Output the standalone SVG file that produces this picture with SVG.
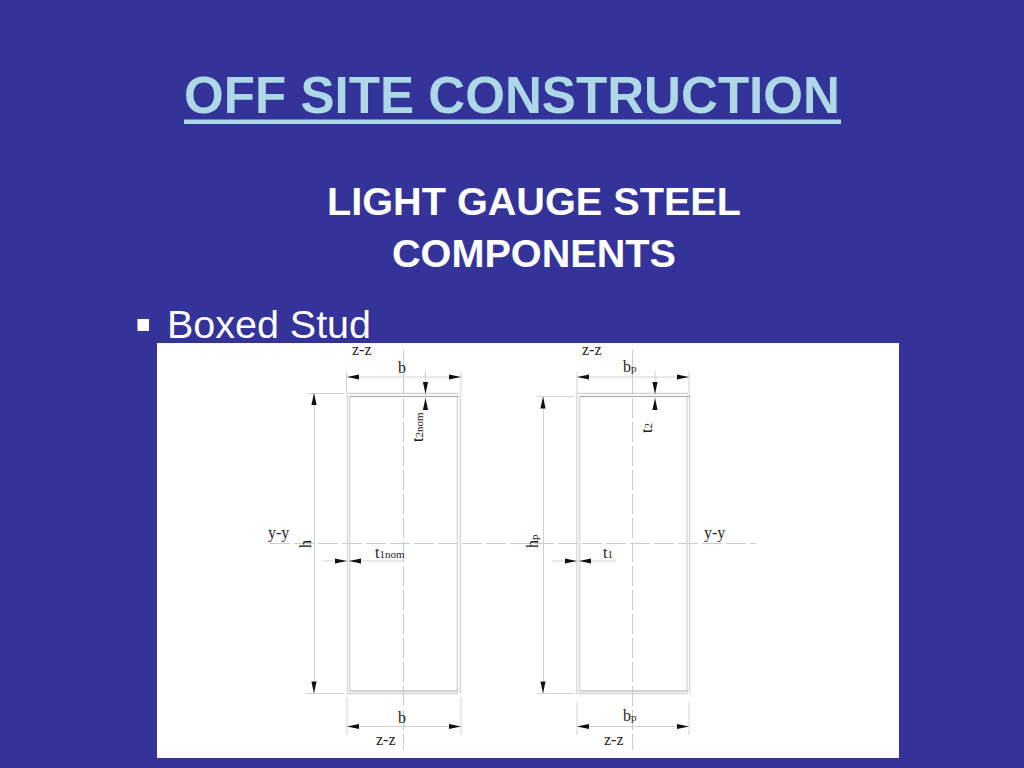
<svg xmlns="http://www.w3.org/2000/svg" xmlns:xlink="http://www.w3.org/1999/xlink" width="1024" height="768" viewBox="0 0 1024 768">
<style>
.sans{font-family:"Liberation Sans",Arial,sans-serif}
.ser{font-family:"Liberation Serif","Times New Roman",serif;font-size:16px;fill:#222}
.sub{font-size:11px}
.dim{stroke:#d2d2d2;stroke-width:1;fill:none}
.wall{stroke:#d4d4d4;stroke-width:1.3;fill:none}
.web{stroke:#a8a8a8;stroke-width:1;fill:none}
.cl{stroke:#cccccc;stroke-width:1;stroke-dasharray:20 4;fill:none}
</style>
<defs>
<polygon id="ah" points="0,0 12,-2.600 12,2.600" fill="#111"/>
</defs>
<rect width="1024" height="768" fill="#333399"/>
<g id="title"><text class="sans" x="184" y="113" font-size="51.300" font-weight="700" fill="#add8e6" textLength="656" lengthAdjust="spacingAndGlyphs">OFF SITE CONSTRUCTION</text><rect x="184" y="119.500" width="657" height="4.500" fill="#add8e6"/></g>
<g id="subtitle" class="sans" font-size="39.500" font-weight="700" fill="#fff" text-anchor="middle">
<text x="534" y="215" textLength="414" lengthAdjust="spacingAndGlyphs">LIGHT GAUGE STEEL</text>
<text x="534" y="267" textLength="284" lengthAdjust="spacingAndGlyphs">COMPONENTS</text>
</g>
<g id="bullet"><rect x="137.500" y="319" width="11.500" height="12" fill="#fff"/><text class="sans" x="167" y="338" font-size="39.500" fill="#fff" textLength="204" lengthAdjust="spacingAndGlyphs">Boxed Stud</text></g>
<rect id="panel" x="157" y="343" width="742" height="415" fill="#fff"/>

<g id="connectors">
<path class="cl" d="M270 543.500H756"/>
<!-- left section -->
<path class="wall" d="M347.500 393.500H458 M347.500 393.500V693.500H458 M460.300 393.500V693.500 M349.800 396.500V691 M457.300 396.500V691"/>
<path class="web" d="M349.500 396.500H459 M349.500 691H458"/>
<path class="cl" d="M403.500 350V750"/>
<path class="dim" d="M347 377H461 M346.500 372V393 M461 372V393 M307 393.500H344 M314.500 393.500V693.500 M307 693.500H344 M425.500 371V410 M323 561H403 M347 697V735 M461 697V735 M347 726.500H461"/>
<use xlink:href="#ah" href="#ah" transform="translate(347,377)"/>
<use xlink:href="#ah" href="#ah" transform="translate(461,377) rotate(180)"/>
<use xlink:href="#ah" href="#ah" transform="translate(314,393) rotate(90)"/>
<use xlink:href="#ah" href="#ah" transform="translate(314,693.500) rotate(-90)"/>
<use xlink:href="#ah" href="#ah" transform="translate(425.500,394) rotate(-90)"/>
<use xlink:href="#ah" href="#ah" transform="translate(425.500,398) rotate(90)"/>
<use xlink:href="#ah" href="#ah" transform="translate(347,561) rotate(180)"/>
<use xlink:href="#ah" href="#ah" transform="translate(349,561)"/>
<use xlink:href="#ah" href="#ah" transform="translate(347,726.500)"/>
<use xlink:href="#ah" href="#ah" transform="translate(461,726.500) rotate(180)"/>
<!-- right section -->
<path class="wall" d="M577 393.500H688 M577 393.500V693.500H688 M689.500 393.500V693.500 M579.500 396.500V691 M687 396.500V691"/>
<path class="web" d="M579.500 396.500H690 M579.500 691H688"/>
<path class="cl" d="M632.500 350V750"/>
<path class="dim" d="M577 377H689 M577 372V393 M689 372V393 M537 396.500H573 M543.500 396.500V693.500 M537 693.500H573 M655 371V410 M552 561H616 M577 702V735 M689 702V735 M577 726.500H689"/>
<use xlink:href="#ah" href="#ah" transform="translate(577,377)"/>
<use xlink:href="#ah" href="#ah" transform="translate(689,377) rotate(180)"/>
<use xlink:href="#ah" href="#ah" transform="translate(543,396.500) rotate(90)"/>
<use xlink:href="#ah" href="#ah" transform="translate(543,693.500) rotate(-90)"/>
<use xlink:href="#ah" href="#ah" transform="translate(655,394) rotate(-90)"/>
<use xlink:href="#ah" href="#ah" transform="translate(655,398) rotate(90)"/>
<use xlink:href="#ah" href="#ah" transform="translate(577,561) rotate(180)"/>
<use xlink:href="#ah" href="#ah" transform="translate(579,561)"/>
<use xlink:href="#ah" href="#ah" transform="translate(577,726.500)"/>
<use xlink:href="#ah" href="#ah" transform="translate(689,726.500) rotate(180)"/>
</g>

<g id="labels" class="ser">
<text x="352" y="355">z-z</text>
<text x="398" y="373">b</text>
<text transform="translate(423,442) rotate(-90)">t<tspan class="sub">2nom</tspan></text>
<text x="268" y="538">y-y</text>
<text transform="translate(311,548) rotate(-90)">h</text>
<text x="375" y="558">t<tspan class="sub">1nom</tspan></text>
<text x="398" y="723">b</text>
<text x="376" y="745">z-z</text>
<text x="582" y="355">z-z</text>
<text x="623" y="372">b<tspan class="sub">p</tspan></text>
<text transform="translate(652,433) rotate(-90)">t<tspan class="sub">2</tspan></text>
<text x="704" y="538">y-y</text>
<text transform="translate(538,548) rotate(-90)">h<tspan class="sub">p</tspan></text>
<text x="603" y="558">t<tspan class="sub">1</tspan></text>
<text x="623" y="721">b<tspan class="sub">p</tspan></text>
<text x="604" y="745">z-z</text>
</g>
</svg>
